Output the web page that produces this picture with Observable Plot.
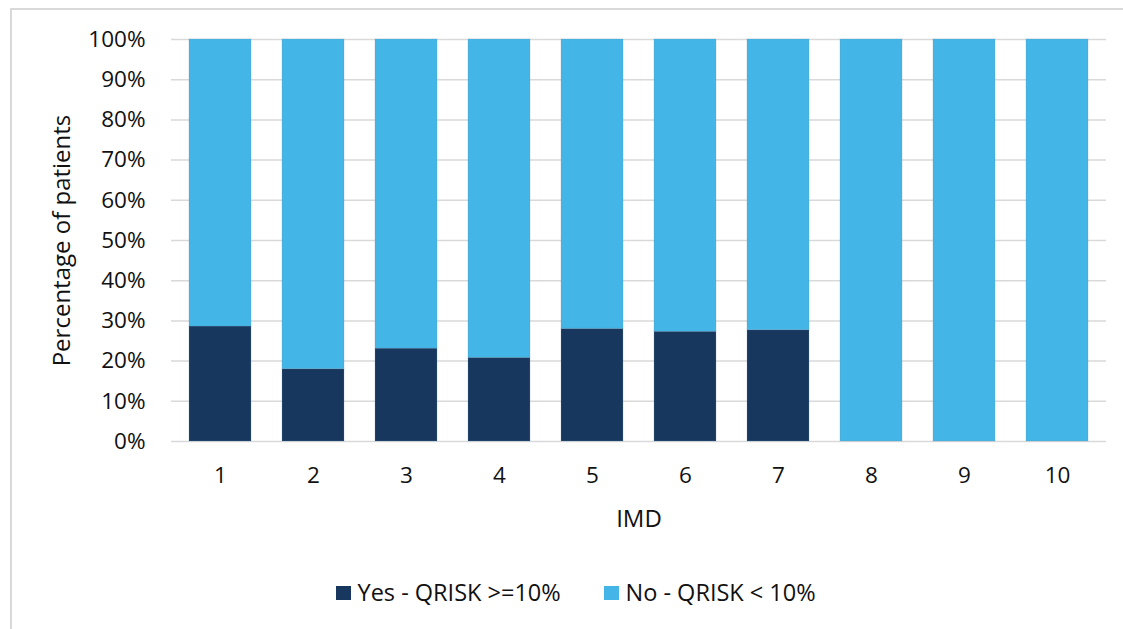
<!DOCTYPE html>
<html>
<head>
<meta charset="utf-8">
<script src="https://cdn.jsdelivr.net/npm/d3@7"></script>
<script src="https://cdn.jsdelivr.net/npm/@observablehq/plot@0.6"></script>
<style>
  html, body { margin: 0; padding: 0; background: #fff; }
  body { width: 1123px; height: 629px; position: relative; overflow: hidden; font-family: "Open Sans", sans-serif; }
  #frame { position: absolute; left: 10px; top: 8px; width: 1200px; height: 700px; border-left: 2px solid #d9d9d9; border-top: 2px solid #d9d9d9; }
  #chart { position: absolute; left: 0; top: 0; }
  #legend { position: absolute; top: 578px; left: 0; width: 1123px; height: 28px; font-size: 23.5px; color: #111; }
  .item { position: absolute; top: 0; display: flex; align-items: center; height: 28px; white-space: nowrap; }
  .sw { width: 14.5px; height: 14.5px; margin-right: 7px; display: inline-block; position: relative; top: 1px; }
</style>
</head>
<body>
<div id="frame"></div>
<div id="chart"></div>
<div id="legend"></div>
<script>
const categories = ["1","2","3","4","5","6","7","8","9","10"];
const seriesNames = ["Yes - QRISK >=10%", "No - QRISK < 10%"];
const yesValues = [28.6, 18.0, 23.1, 20.8, 28.0, 27.3, 27.7, 0, 0, 0];
const noValues  = [71.4, 82.0, 76.9, 79.2, 72.0, 72.7, 72.3, 100, 100, 100];
const seriesColors = ["#17375e", "#43b5e6"];
const yTicks = [0, 0.1, 0.2, 0.3, 0.4, 0.5, 0.6, 0.7, 0.8, 0.9, 1];

const rows = [];
categories.forEach((c, i) => {
  rows.push({imd: c, series: seriesNames[0], value: yesValues[i] / 100});
  rows.push({imd: c, series: seriesNames[1], value: noValues[i] / 100});
});

const chart = Plot.plot({
  width: 1123,
  height: 560,
  marginLeft: 171,
  marginRight: 17,
  marginTop: 39,
  marginBottom: 119,
  style: {fontFamily: "Open Sans, sans-serif", fontSize: "22.5px", color: "#111", background: "transparent"},
  x: {type: "band", domain: categories, paddingInner: 0.335, paddingOuter: 0.1675, label: null},
  y: {domain: [0, 1], label: null},
  color: {domain: seriesNames, range: seriesColors},
  marks: [
    Plot.ruleY(yTicks, {stroke: "#d9d9d9", strokeWidth: 1.5}),
    Plot.barY(rows, Plot.stackY({order: seriesNames}, {x: "imd", y: "value", fill: "series", z: "series", stroke: "#5f8fb0", strokeOpacity: 0.25, strokeWidth: 1})),
    Plot.axisY({ticks: yTicks, tickFormat: d3.format(".0%"), tickSize: 0, tickPadding: 26, label: null, fontSize: 22.5}),
    Plot.axisX({tickSize: 0, tickPadding: 26, label: null, fontSize: 22.5}),
    Plot.text(["Percentage of patients"], {frameAnchor: "left", dx: -109, rotate: -90, text: d => d, fontSize: 24, fill: "#111", textAnchor: "middle", lineAnchor: "middle"}),
    Plot.text(["IMD"], {frameAnchor: "bottom", dy: 78, text: d => d, fontSize: 24, fill: "#111", textAnchor: "middle", lineAnchor: "middle"})
  ]
});
document.getElementById("chart").appendChild(chart);

const legend = document.getElementById("legend");
const legendX = [336, 604];
seriesNames.forEach((name, i) => {
  const item = document.createElement("div");
  item.className = "item";
  item.style.left = legendX[i] + "px";
  const sw = document.createElement("span");
  sw.className = "sw";
  sw.style.background = seriesColors[i];
  const t = document.createElement("span");
  t.textContent = name;
  item.appendChild(sw);
  item.appendChild(t);
  legend.appendChild(item);
});
</script>
</body>
</html>
